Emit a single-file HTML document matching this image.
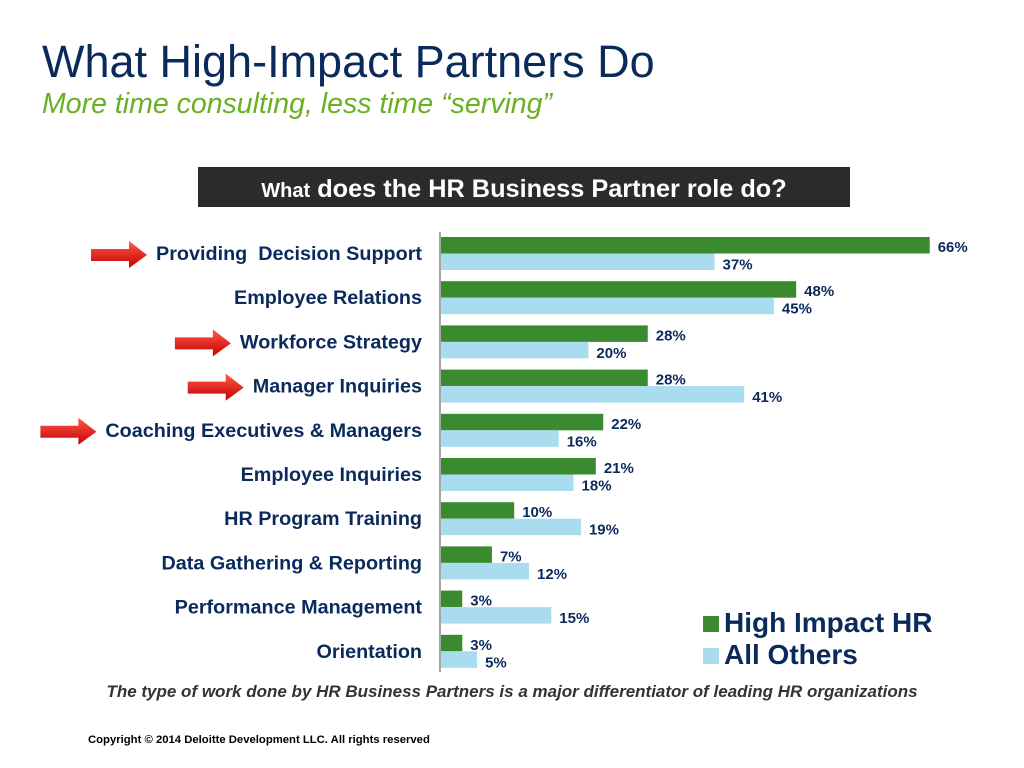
<!DOCTYPE html>
<html><head><meta charset="utf-8"><style>
body{margin:0;width:1024px;height:768px;background:#fff;font-family:"Liberation Sans",sans-serif;position:relative;overflow:hidden}
.abs{position:absolute}
</style></head><body>
<div class="abs" style="left:42px;top:36px;font-size:45px;color:#0b2a5c;white-space:nowrap">What High-Impact Partners Do</div>
<div class="abs" style="left:42px;top:88px;font-size:28.5px;font-style:italic;color:#6ab023;white-space:nowrap">More time consulting, less time “serving”</div>
<div class="abs" style="left:198px;top:167px;width:652px;height:40px;background:#2b2b2b;color:#fff;font-weight:bold;text-align:center;line-height:44px;font-size:25.3px;white-space:nowrap"><span style="font-size:20px">What</span> does the HR Business Partner role do?</div>
<svg class="abs" style="left:0;top:0" width="1024" height="768" id="chart">
<defs><linearGradient id="ar" x1="0" y1="0" x2="0" y2="1"><stop offset="0" stop-color="#ff5a4a"/><stop offset="1" stop-color="#c40000"/></linearGradient></defs>
<line x1="440" y1="232" x2="440" y2="672" stroke="#888" stroke-width="1.5"/>
</svg>
<div class="abs" style="left:703px;top:607px;font-size:28px;font-weight:bold;color:#0b2a5c;white-space:nowrap"><span style="display:inline-block;width:16px;height:16px;background:#3a8a2f;margin-right:5px"></span>High Impact HR</div>
<div class="abs" style="left:703px;top:639px;font-size:28px;font-weight:bold;color:#0b2a5c;white-space:nowrap"><span style="display:inline-block;width:16px;height:16px;background:#aadcf0;margin-right:5px"></span>All Others</div>
<div class="abs" style="left:0;width:1024px;text-align:center;top:682px;font-size:17px;font-style:italic;font-weight:bold;color:#333;white-space:nowrap">The type of work done by HR Business Partners is a major differentiator of leading HR organizations</div>
<div class="abs" style="left:88px;top:734px;font-size:11.3px;font-weight:bold;color:#000;white-space:nowrap">Copyright © 2014 Deloitte Development LLC. All rights reserved</div>
<script>
const categories=["Providing  Decision Support","Employee Relations","Workforce Strategy","Manager Inquiries","Coaching Executives & Managers","Employee Inquiries","HR Program Training","Data Gathering & Reporting","Performance Management","Orientation"];
const highImpact=[66,48,28,28,22,21,10,7,3,3];
const allOthers=[37,45,20,41,16,18,19,12,15,5];
const arrowed=[true,false,true,true,true,false,false,false,false,false];
const svg=document.getElementById('chart');
const NS='http://www.w3.org/2000/svg';
const x0=440,pxPer=7.42,y0=237,step=44.2,bh=16.5;
const xs=v=>x0+v*pxPer;
const ys=i=>y0+i*step;
function mk(t,a){const e=document.createElementNS(NS,t);for(const k in a)e.setAttribute(k,a[k]);svg.appendChild(e);return e;}
categories.forEach((c,i)=>{
 const y=ys(i);
 const l=mk('text',{x:422,y:y+23,'text-anchor':'end','font-size':19.8,'font-weight':'bold',fill:'#0b2a5c',style:'white-space:pre'});
 l.textContent=c;
 
 
 const g=mk('rect',{x:x0+1,y:y,width:xs(highImpact[i])-x0-1,height:bh,fill:'#3a8a2f'});
 
 
 const b=mk('rect',{x:x0+1,y:y+bh,width:xs(allOthers[i])-x0-1,height:bh,fill:'#aadcf0'});
 
 
 const gt=mk('text',{x:xs(highImpact[i])+8,y:y+15,'font-size':15,'font-weight':'bold',fill:'#0b2a5c'});
 gt.textContent=highImpact[i]+'%';
 
 
 const bt=mk('text',{x:xs(allOthers[i])+8,y:y+bh+16,'font-size':15,'font-weight':'bold',fill:'#0b2a5c'});
 bt.textContent=allOthers[i]+'%';
 
 
 if(arrowed[i]){
  const ax=422-l.getComputedTextLength()-9;
  const p=mk('polygon',{points:`${ax-56},${y+12} ${ax-18},${y+12} ${ax-18},${y+4} ${ax},${y+18} ${ax-18},${y+31} ${ax-18},${y+24} ${ax-56},${y+24}`,fill:'url(#ar)'});
  
  
 }
});
</script>
</body></html>
